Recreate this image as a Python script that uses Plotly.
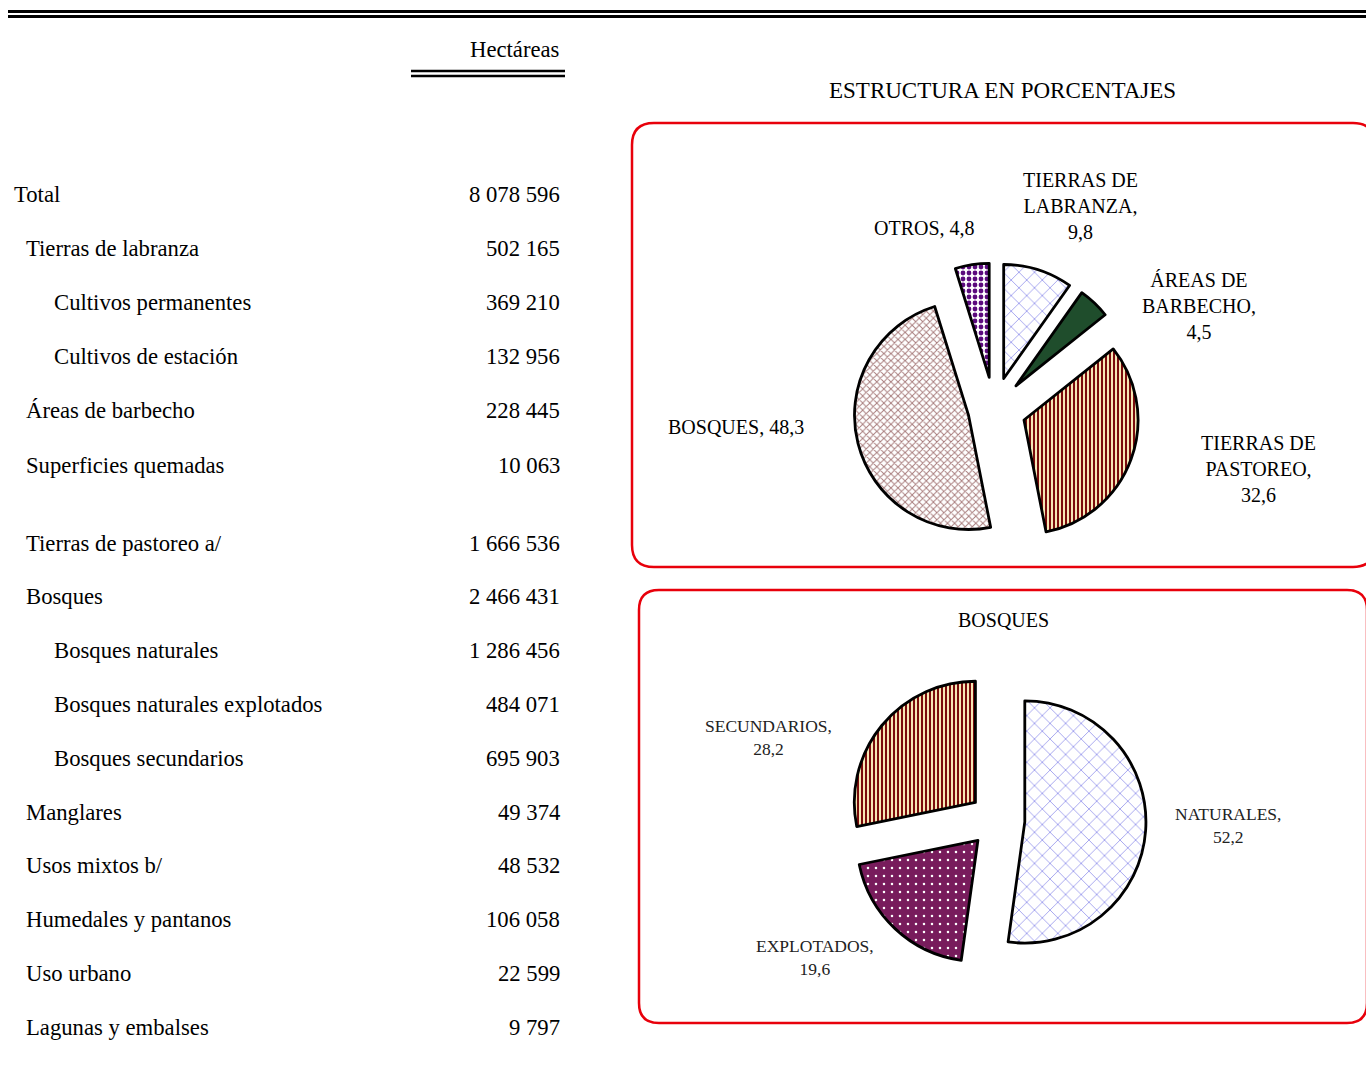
import plotly.graph_objects as go

# ---------------- data ----------------
row_labels = ["Total", "Tierras de labranza", "Cultivos permanentes", "Cultivos de estación",
              "Áreas de barbecho", "Superficies quemadas", "Tierras de pastoreo a/", "Bosques",
              "Bosques naturales", "Bosques naturales explotados", "Bosques secundarios",
              "Manglares", "Usos mixtos b/", "Humedales y pantanos", "Uso urbano", "Lagunas y embalses"]
row_values = [8078596, 502165, 369210, 132956, 228445, 10063, 1666536, 2466431,
              1286456, 484071, 695903, 49374, 48532, 106058, 22599, 9797]
row_levels = [0, 1, 2, 2, 1, 1, 1, 1, 2, 2, 2, 1, 1, 1, 1, 1]

pie1_labels = ["TIERRAS DE<br>LABRANZA,", "ÁREAS DE<br>BARBECHO,", "TIERRAS DE<br>PASTOREO,", "BOSQUES,", "OTROS,"]
pie1_values = [9.8, 4.5, 32.6, 48.3, 4.8]

pie2_labels = ["NATURALES,", "EXPLOTADOS,", "SECUNDARIOS,"]
pie2_values = [52.2, 19.6, 28.2]

# ---------------- layout helpers ----------------
W, H = 1366, 1068
FONT = "Liberation Serif, Times New Roman, serif"

def fmt(v):
    return f"{v:,}".replace(",", " ")

def pct(v):
    return f"{v:.1f}".replace(".", ",")

def dom(x0, x1, y0, y1):
    return dict(x=[x0 / W, x1 / W], y=[1 - y1 / H, 1 - y0 / H])

def rounded(x0, y0, x1, y1, r):
    return (f"M {x0+r},{y0} L {x1-r},{y0} Q {x1},{y0} {x1},{y0+r} "
            f"L {x1},{y1-r} Q {x1},{y1} {x1-r},{y1} L {x0+r},{y1} "
            f"Q {x0},{y1} {x0},{y1-r} L {x0},{y0+r} Q {x0},{y0} {x0+r},{y0} Z")

fig = go.Figure()

# invisible cartesian frame in pixel coordinates
fig.add_trace(go.Scatter(x=[], y=[], showlegend=False, hoverinfo="skip"))

blue = "#7f7fe8"
stripe_fg = "#7a0c0c"
stripe_bg = "#f6e7b5"

fig.add_trace(go.Pie(
    values=pie1_values, labels=[l.replace("<br>", " ") for l in pie1_labels],
    sort=False, direction="clockwise", rotation=0,
    pull=[0.28, 0.28, 0.28, 0.23, 0.28], textinfo="none", showlegend=False,
    domain=dom(848, 1140, 263, 555),
    marker=dict(
        colors=["white", "#1f4d2c", stripe_bg, "white", "white"],
        line=dict(color="black", width=2.8),
        pattern=dict(
            shape=["x", "", "|", "x", "."],
            fgcolor=[blue, "#1f4d2c", stripe_fg, "#a87c7c", "#5b0a7d"],
            bgcolor=["white", "#1f4d2c", stripe_bg, "white", "white"],
            size=[11, 8, 4, 5, 6],
            solidity=[0.12, 0.3, 0.5, 0.35, 0.5],
            fillmode="replace",
        ),
    ),
))

fig.add_trace(go.Pie(
    values=pie2_values, labels=pie2_labels,
    sort=False, direction="clockwise", rotation=0,
    pull=[0.23] * 3, textinfo="none", showlegend=False,
    domain=dom(848, 1146, 671, 969),
    marker=dict(
        colors=["white", "#781c5c", stripe_bg],
        line=dict(color="black", width=2.8),
        pattern=dict(
            shape=["x", ".", "|"],
            fgcolor=[blue, "white", stripe_fg],
            bgcolor=["white", "#781c5c", stripe_bg],
            size=[11, 8, 4],
            solidity=[0.12, 0.08, 0.5],
            fillmode="replace",
        ),
    ),
))

ann = []
# table rows
indent_x = {0: 12, 1: 24, 2: 52}
for i, (lab, val, lev) in enumerate(zip(row_labels, row_values, row_levels)):
    y = 194 + 54.2 * i if i < 6 else 543 + 53.8 * (i - 6)
    ann.append(dict(x=indent_x[lev], y=y, text=lab, xanchor="left", yanchor="middle",
                    showarrow=False, font=dict(family=FONT, size=22.7, color="black")))
    ann.append(dict(x=562, y=y, text=fmt(val), xanchor="right", yanchor="middle",
                    showarrow=False, font=dict(family=FONT, size=22.7, color="black")))

ann.append(dict(x=562, y=49, text="Hectáreas", xanchor="right", yanchor="middle",
                showarrow=False, font=dict(family=FONT, size=22.7, color="black")))
ann.append(dict(x=1002, y=90, text="ESTRUCTURA EN PORCENTAJES", xanchor="center", yanchor="middle",
                showarrow=False, font=dict(family=FONT, size=23, color="black")))
ann.append(dict(x=1003, y=620, text="BOSQUES", xanchor="center", yanchor="middle",
                showarrow=False, font=dict(family=FONT, size=20, color="black")))

# pie 1 labels
pie1_pos = [(1080, 206), (1199, 306), (1258, 469), (736, 427), (924, 228)]
for lab, v, (x, y) in zip(pie1_labels, pie1_values, pie1_pos):
    sep = "<br>" if "<br>" in lab else " "
    ann.append(dict(x=x, y=y, text=f"{lab}{sep}{pct(v)}", xanchor="center", yanchor="middle",
                    align="center", showarrow=False,
                    font=dict(family=FONT, size=20, color="black")))

# pie 2 labels
pie2_pos = [(1228, 825), (815, 957), (768, 737)]
for lab, v, (x, y) in zip(pie2_labels, pie2_values, pie2_pos):
    ann.append(dict(x=x, y=y, text=f"{lab}<br>{pct(v)}", xanchor="center", yanchor="middle",
                    align="center", showarrow=False,
                    font=dict(family=FONT, size=17.5, color="#222222")))

shapes = [
    dict(type="line", x0=8, x1=1366, y0=11.5, y1=11.5, line=dict(color="black", width=3)),
    dict(type="line", x0=8, x1=1366, y0=16.5, y1=16.5, line=dict(color="black", width=3)),
    dict(type="line", x0=411, x1=565, y0=71, y1=71, line=dict(color="black", width=2.5)),
    dict(type="line", x0=411, x1=565, y0=76, y1=76, line=dict(color="black", width=2.5)),
    dict(type="path", path=rounded(632, 123, 1375, 567, 22), line=dict(color="#e8000b", width=2.5)),
    dict(type="path", path=rounded(639, 590, 1367, 1023, 20), line=dict(color="#e8000b", width=2.5)),
]
for s in shapes:
    s.update(xref="x", yref="y", layer="above" if s["type"] == "line" else "below")

fig.update_layout(
    width=W, height=H,
    margin=dict(l=0, r=0, t=0, b=0),
    paper_bgcolor="white", plot_bgcolor="white",
    xaxis=dict(range=[0, W], visible=False, fixedrange=True),
    yaxis=dict(range=[H, 0], visible=False, fixedrange=True),
    annotations=ann, shapes=shapes,
)

fig.write_html("out.html", config={"displayModeBar": False},
               post_script="document.body.style.margin='0';document.body.style.overflow='hidden';")
